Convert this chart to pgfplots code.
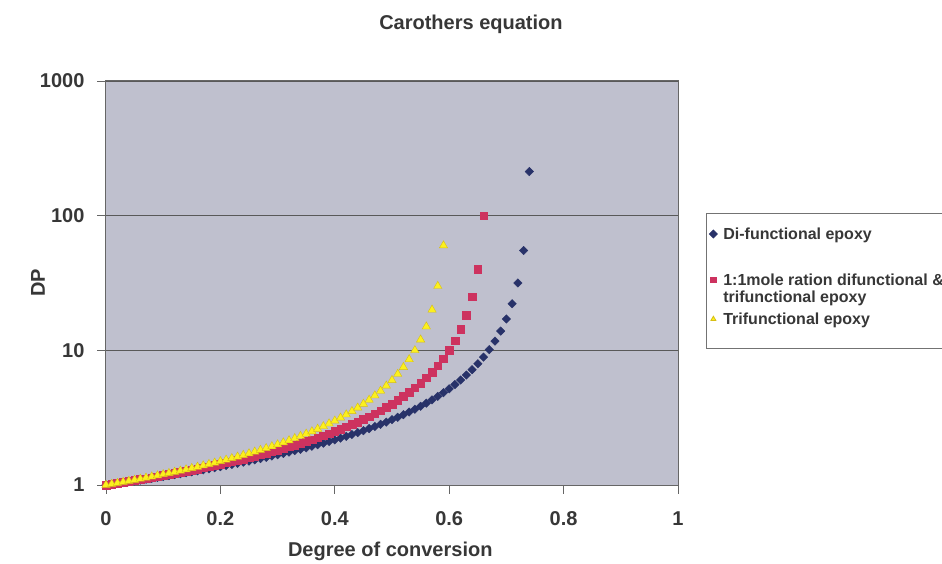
\documentclass[border=0pt]{standalone}
\usepackage{fontspec}
\setmainfont{Liberation Sans}
\usepackage{pgfplots}
\usepackage{pgfplotstable}
\pgfplotsset{compat=1.18}
\definecolor{bgplot}{RGB}{191,192,206}
\definecolor{dicol}{RGB}{40,50,105}
\definecolor{pinkcol}{RGB}{205,50,95}
\definecolor{yelcol}{RGB}{252,240,30}
\definecolor{yeledge}{RGB}{215,190,20}
\definecolor{txt}{RGB}{55,55,55}

\pgfplotstableread{
p DP
0.00 1.0000
0.01 1.0136
0.02 1.0276
0.03 1.0420
0.04 1.0569
0.05 1.0721
0.06 1.0878
0.07 1.1039
0.08 1.1206
0.09 1.1377
0.10 1.1554
0.11 1.1737
0.12 1.1925
0.13 1.2119
0.14 1.2320
0.15 1.2527
0.16 1.2742
0.17 1.2964
0.18 1.3194
0.19 1.3433
0.20 1.3680
0.21 1.3936
0.22 1.4203
0.23 1.4479
0.24 1.4767
0.25 1.5066
0.26 1.5378
0.27 1.5702
0.28 1.6041
0.29 1.6395
0.30 1.6764
0.31 1.7151
0.32 1.7556
0.33 1.7981
0.34 1.8426
0.35 1.8895
0.36 1.9388
0.37 1.9906
0.38 2.0454
0.39 2.1033
0.40 2.1645
0.41 2.2294
0.42 2.2983
0.43 2.3716
0.44 2.4498
0.45 2.5333
0.46 2.6226
0.47 2.7185
0.48 2.8217
0.49 2.9330
0.50 3.0534
0.51 3.1842
0.52 3.3267
0.53 3.4825
0.54 3.6536
0.55 3.8425
0.56 4.0519
0.57 4.2854
0.58 4.5475
0.59 4.8438
0.60 5.1813
0.61 5.5695
0.62 6.0205
0.63 6.5509
0.64 7.1839
0.65 7.9523
0.66 8.9047
0.67 10.116
0.68 11.710
0.69 13.899
0.70 17.094
0.71 22.198
0.72 31.646
0.73 55.096
0.74 212.77
}\didata

\pgfplotstableread{
p DP
0.00 1.0000
0.01 1.0152
0.02 1.0309
0.03 1.0471
0.04 1.0638
0.05 1.0811
0.06 1.0989
0.07 1.1173
0.08 1.1364
0.09 1.1561
0.10 1.1765
0.11 1.1976
0.12 1.2195
0.13 1.2422
0.14 1.2658
0.15 1.2903
0.16 1.3158
0.17 1.3423
0.18 1.3699
0.19 1.3986
0.20 1.4286
0.21 1.4599
0.22 1.4925
0.23 1.5267
0.24 1.5625
0.25 1.6000
0.26 1.6393
0.27 1.6807
0.28 1.7241
0.29 1.7699
0.30 1.8182
0.31 1.8692
0.32 1.9231
0.33 1.9802
0.34 2.0408
0.35 2.1053
0.36 2.1739
0.37 2.2472
0.38 2.3256
0.39 2.4096
0.40 2.5000
0.41 2.5974
0.42 2.7027
0.43 2.8169
0.44 2.9412
0.45 3.0769
0.46 3.2258
0.47 3.3898
0.48 3.5714
0.49 3.7736
0.50 4.0000
0.51 4.2553
0.52 4.5455
0.53 4.8780
0.54 5.2632
0.55 5.7143
0.56 6.2500
0.57 6.8966
0.58 7.6923
0.59 8.6957
0.60 10.000
0.61 11.765
0.62 14.286
0.63 18.182
0.64 25.000
0.65 40.000
0.66 100.00
}\mixdata

\pgfplotstableread{
p DP
0.00 1.0000
0.01 1.0169
0.02 1.0345
0.03 1.0526
0.04 1.0714
0.05 1.0909
0.06 1.1111
0.07 1.1321
0.08 1.1538
0.09 1.1765
0.10 1.2000
0.11 1.2245
0.12 1.2500
0.13 1.2766
0.14 1.3043
0.15 1.3333
0.16 1.3636
0.17 1.3953
0.18 1.4286
0.19 1.4634
0.20 1.5000
0.21 1.5385
0.22 1.5789
0.23 1.6216
0.24 1.6667
0.25 1.7143
0.26 1.7647
0.27 1.8182
0.28 1.8750
0.29 1.9355
0.30 2.0000
0.31 2.0690
0.32 2.1429
0.33 2.2222
0.34 2.3077
0.35 2.4000
0.36 2.5000
0.37 2.6087
0.38 2.7273
0.39 2.8571
0.40 3.0000
0.41 3.1579
0.42 3.3333
0.43 3.5294
0.44 3.7500
0.45 4.0000
0.46 4.2857
0.47 4.6154
0.48 5.0000
0.49 5.4545
0.50 6.0000
0.51 6.6667
0.52 7.5000
0.53 8.5714
0.54 10.000
0.55 12.000
0.56 15.000
0.57 20.000
0.58 30.000
0.59 60.000
}\tridata

\begin{document}
\begin{tikzpicture}
\path[use as bounding box] (-106bp,-79bp) rectangle (836bp,485bp);
\begin{axis}[
  at={(0,0)}, anchor=south west,
  scale only axis, width=572bp, height=404bp,
  ymode=log, xmin=0, xmax=1, ymin=1, ymax=1000,
  xtick={0,0.2,0.4,0.6,0.8,1}, xticklabels={0,0.2,0.4,0.6,0.8,1},
  ytick={1,10,100,1000}, yticklabels={1,10,100,1000},
  yminorticks=false,
  tick align=outside, major tick length=9bp,
  xtick pos=bottom, ytick pos=left,
  tick style={draw=black!60, line width=0.9bp},
  axis background/.style={fill=bgplot},
  axis line style={draw=black!60, line width=1bp},
  ymajorgrids, major grid style={draw=black!65, line width=0.9bp},
  clip=false,
  /pgf/number format/assume math mode=true,
  every tick label/.append style={font=\fontsize{20bp}{24bp}\selectfont\bfseries, text=txt},
  xticklabel style={yshift=-14bp},
  yticklabel style={xshift=-9bp},
  title={Carothers equation},
  title style={at={(axis description cs:0.638,1)}, anchor=center, yshift=51bp,
    font=\fontsize{20bp}{24bp}\selectfont\bfseries, text=txt},
  xlabel={Degree of conversion},
  xlabel style={at={(axis description cs:0.497,0)}, anchor=center, yshift=-66bp,
    font=\fontsize{20bp}{24bp}\selectfont\bfseries, text=txt},
  ylabel={DP},
  ylabel style={at={(axis description cs:0,0.5)}, anchor=center, yshift=68bp,
    font=\fontsize{20bp}{24bp}\selectfont\bfseries, text=txt},
  legend style={at={(axis description cs:1.049,0.673)}, anchor=north west,
    draw=black!55, line width=0.8bp, fill=white,
    font=\fontsize{16bp}{17bp}\selectfont\bfseries, text=txt,
    inner xsep=3bp, inner ysep=0bp, row sep=0bp, column sep=6bp,
    cells={anchor=base west},
    nodes={inner sep=0bp, text depth=, text height=, anchor=base west}},
  legend image code/.code={\draw[mark repeat=2,mark phase=2,#1] plot coordinates {(0bp,0bp)(4bp,0bp)(8bp,0bp)};},
  legend image post style={yshift=5.5bp, mark size=2.8bp},
]
\addplot[only marks, mark=square*, mark options={rotate=45}, mark size=3bp, draw=dicol, fill=dicol] table[x=p,y=DP] {\didata};
\addlegendentry{\rule{0pt}{26bp}Di-functional epoxy\rule[-32bp]{0pt}{0pt}}
\addplot[only marks, mark=square*, mark size=3.8bp, draw=pinkcol, fill=pinkcol] table[x=p,y=DP] {\mixdata};
\addlegendentry{\vtop{\baselineskip=17bp\hbox{\rule{0pt}{14bp}1:1mole ration difunctional \&}\hbox{trifunctional epoxy\rule[-4bp]{0pt}{0pt}}}}
\addplot[only marks, mark=triangle*, mark size=4.8bp, draw=yeledge, fill=yelcol] table[x=p,y=DP] {\tridata};
\addlegendentry{\rule{0pt}{18bp}Trifunctional epoxy\rule[-24bp]{0pt}{0pt}}
\end{axis}
\end{tikzpicture}
\end{document}
